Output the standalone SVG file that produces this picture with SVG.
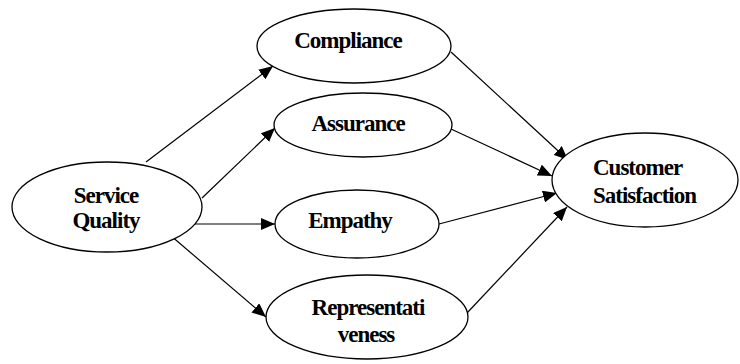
<svg xmlns="http://www.w3.org/2000/svg" width="740" height="364" viewBox="0 0 740 364">
<style>
.n{fill:#fff;stroke:#000;stroke-width:1.3}
.t{font-family:"Liberation Serif","Times New Roman",serif;font-weight:bold;font-size:23px;letter-spacing:-1px;fill:#000;text-anchor:middle}
.e{fill:none;stroke:#000;stroke-width:1.2;marker-end:url(#ah)}
</style>
<defs>
<marker id="ah" markerUnits="userSpaceOnUse" markerWidth="14" markerHeight="12" refX="14" refY="6" orient="auto">
<path d="M0,0 L14,6 L0,12 z" fill="#000"/>
</marker>
</defs>
<rect width="740" height="364" fill="#fff"/>
<g id="connectors">
<line class="e" x1="146" y1="162" x2="273" y2="66"/>
<line class="e" x1="202" y1="198" x2="275" y2="128"/>
<line class="e" x1="187" y1="224" x2="275" y2="224"/>
<line class="e" x1="170" y1="235" x2="266" y2="317"/>
<line class="e" x1="451" y1="52" x2="568" y2="160"/>
<line class="e" x1="451" y1="129" x2="552" y2="176"/>
<line class="e" x1="439" y1="224" x2="557" y2="193"/>
<line class="e" x1="467" y1="313" x2="567" y2="207"/>
</g>
<g id="service-quality">
<ellipse class="n" cx="107" cy="207" rx="95" ry="45"/>
<text class="t" x="106" y="203">Service</text>
<text class="t" x="106" y="228">Quality</text>
</g>
<g id="compliance">
<ellipse class="n" cx="354" cy="46" rx="97" ry="37"/>
<text class="t" x="348" y="48">Compliance</text>
</g>
<g id="assurance">
<ellipse class="n" cx="363" cy="125" rx="89" ry="32"/>
<text class="t" x="358" y="131">Assurance</text>
</g>
<g id="empathy">
<ellipse class="n" cx="357" cy="224" rx="82" ry="34"/>
<text class="t" x="350" y="228">Empathy</text>
</g>
<g id="representativeness">
<ellipse class="n" cx="367" cy="317" rx="101" ry="42"/>
<text class="t" x="368" y="315">Representati</text>
<text class="t" x="366" y="342">veness</text>
</g>
<g id="customer-satisfaction">
<ellipse class="n" cx="645" cy="180" rx="93" ry="47"/>
<text class="t" x="593" y="175" style="text-anchor:start">Customer</text>
<text class="t" x="593" y="203" style="text-anchor:start">Satisfaction</text>
</g>
</svg>
